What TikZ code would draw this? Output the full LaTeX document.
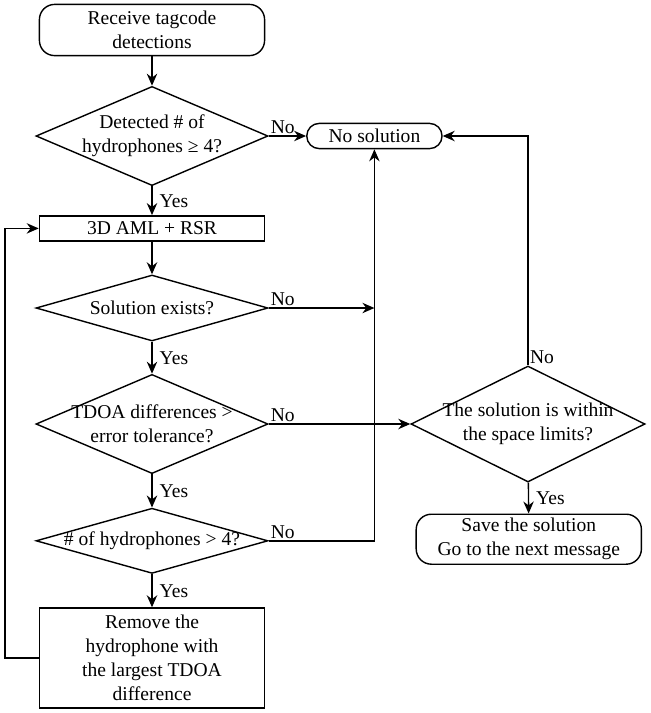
\documentclass[tikz,border=0pt]{standalone}
\usepackage{fontspec}
\setmainfont{Liberation Serif}
\usetikzlibrary{shapes.geometric, arrows.meta}

\begin{document}
\begin{tikzpicture}[font=\fontsize{13.9}{17}\selectfont, line width=1pt]
		\tikzstyle{term} = [rectangle,rounded corners=0.38cm,draw=black,align=center,inner sep=0pt]
		\tikzstyle{proc} = [rectangle,draw=black,align=center,inner sep=0pt]
		\tikzstyle{dec} = [diamond,draw=black,inner sep=0pt,minimum width=5.8cm]
		\tikzstyle{edge} = [-{Stealth[length=0.3cm,width=0.26cm]}]
		\tikzstyle{lab} = [inner sep=1pt]
		\useasboundingbox (0,0) rectangle (16.275,-17.825);
		\node[term,minimum width=5.63cm,minimum height=1.28cm] (n1) at (3.8,-0.75) {Receive tagcode\\detections};
		\node[dec,minimum height=2.48cm,label={[align=center]center:{Detected \# of\\hydrophones ≥ 4?}}] (n2) at (3.8,-3.4) {};
		\node[term,rounded corners=0.31cm,minimum width=3.38cm,minimum height=0.63cm] (n3) at (9.36,-3.4) {No solution};
		\node[proc,minimum width=5.63cm,minimum height=0.63cm] (n4) at (3.8,-5.71) {3D AML + RSR};
		\node[dec,minimum height=1.65cm,label={center:{Solution exists?}}] (n5) at (3.8,-7.7) {};
		\node[dec,minimum height=2.48cm,label={[align=center]center:{TDOA differences >\\error tolerance?}}] (n6) at (3.8,-10.6) {};
		\node[dec,minimum width=5.85cm,minimum height=2.9cm,label={[align=center]center:{The solution is within\\the space limits?}}] (n7) at (13.2,-10.6) {};
		\node[dec,minimum height=1.63cm,label={center:{\# of hydrophones > 4?}}] (n8) at (3.8,-13.52) {};
		\node[proc,minimum width=5.63cm,minimum height=2.5cm] (n9) at (3.8,-16.45) {Remove the\\hydrophone with\\the largest TDOA\\difference};
		\node[term,minimum width=5.63cm,minimum height=1.25cm] (n10) at (13.22,-13.48) {Save the solution\\Go to the next message};
		\coordinate (c1) at (n3.south |- n5.east);
		\coordinate (c2) at (0.125,-16.45);
		\draw[edge] (n1)--(n2);
		\draw[edge] (n2)--node[lab,pos=0,above right] (no1) {No} (n3);
		\draw[edge] (n2)--node[lab,right=4pt] (yes1) {Yes} (n4);
		\draw[edge] (n4)--(n5);
		\draw[edge] (n5.east)--node[lab,pos=0,above right] (no2) {No} (c1);
		\draw[edge] (n5)--node[lab,right=4pt] (yes2) {Yes} (n6);
		\draw[edge] (n6)--node[lab,pos=0,above right] (no3) {No} (n7);
		\draw[edge] (n6)--node[lab,right=4pt] (yes3) {Yes} (n8);
		\draw[edge] (n8.east)-|node[lab,pos=0,above right] (no4) {No} (n3.south);
		\draw[edge] (n8)--node[lab,right=4pt] (yes4) {Yes} (n9);
		\draw[edge] (n9.west)--(c2)|-(n4.west);
		\draw[edge] (n7.north)|-node[lab,pos=0,above right] (no5) {No} (n3.east);
		\draw[edge] (n7)--node[lab,right=4pt] (yes5) {Yes} (n10);
		\end{tikzpicture}
\end{document}
